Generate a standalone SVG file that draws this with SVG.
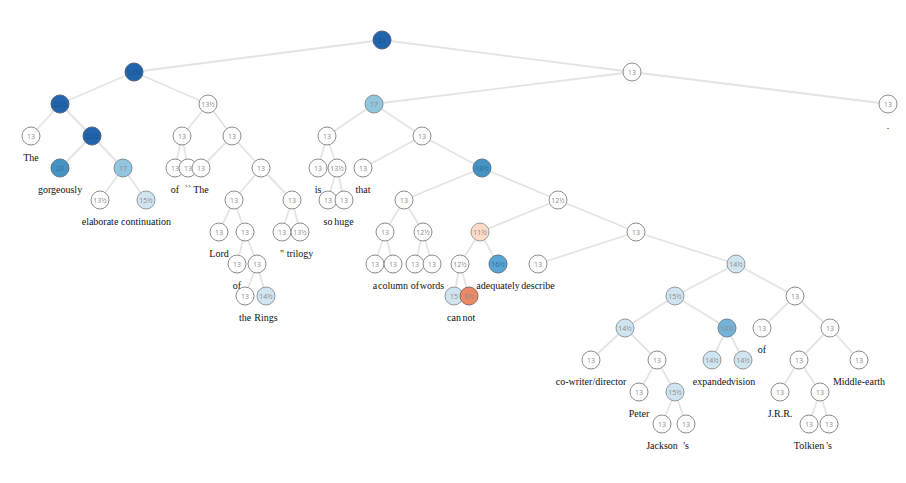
<svg xmlns="http://www.w3.org/2000/svg" width="906" height="483" viewBox="0 0 906 483">
<style>
.bg{fill:#fff}
#edges line{stroke:#e4e4e4;stroke-width:1.8}
.n circle{stroke:#8c8c8c;stroke-width:1;fill:#fff}
.n text.v{font-family:"Open Sans","DejaVu Sans",sans-serif;font-size:7px;fill:#8a8a8a;text-anchor:middle;dominant-baseline:central}
.n text.w{font-family:"Liberation Serif","Times New Roman",serif;font-size:10px;fill:#111;text-anchor:middle}
.n circle.dk{fill:#2166ac;stroke:#4a5f7a}
.n circle.m{fill:#4393c3;stroke:#5a7288}
.n circle.m3{fill:#5aa6d2;stroke:#5a7288}
.n circle.m2{fill:#74b3d8;stroke:#6a8296}
.n circle.l{fill:#92c5de;stroke:#7a8f9c}
.n circle.vl{fill:#d1e5f0;stroke:#8c98a0}
.n circle.ol{fill:#fddbc7;stroke:#a09a96}
.n circle.or{fill:#ec8a68;stroke:#8a6a60}
.n circle.dk+text.v{fill:#1d4f8a}
.n circle.m+text.v,.n circle.m3+text.v{fill:#2f6d9c}
</style>
<rect class="bg" width="906" height="483"/>
<g id="edges">
<line x1="382" y1="40" x2="134" y2="72"/>
<line x1="382" y1="40" x2="632" y2="72"/>
<line x1="134" y1="72" x2="60" y2="104"/>
<line x1="134" y1="72" x2="208" y2="104"/>
<line x1="60" y1="104" x2="31" y2="136"/>
<line x1="60" y1="104" x2="92" y2="136"/>
<line x1="92" y1="136" x2="60" y2="168"/>
<line x1="92" y1="136" x2="123" y2="168"/>
<line x1="123" y1="168" x2="100" y2="200"/>
<line x1="123" y1="168" x2="146" y2="200"/>
<line x1="208" y1="104" x2="182" y2="136"/>
<line x1="208" y1="104" x2="232" y2="136"/>
<line x1="182" y1="136" x2="175" y2="168"/>
<line x1="182" y1="136" x2="188" y2="168"/>
<line x1="232" y1="136" x2="201" y2="168"/>
<line x1="232" y1="136" x2="261" y2="168"/>
<line x1="261" y1="168" x2="234" y2="200"/>
<line x1="261" y1="168" x2="292" y2="200"/>
<line x1="234" y1="200" x2="219" y2="232"/>
<line x1="234" y1="200" x2="245" y2="232"/>
<line x1="245" y1="232" x2="237" y2="264"/>
<line x1="245" y1="232" x2="257" y2="264"/>
<line x1="257" y1="264" x2="245" y2="296"/>
<line x1="257" y1="264" x2="266" y2="296"/>
<line x1="292" y1="200" x2="282" y2="232"/>
<line x1="292" y1="200" x2="300" y2="232"/>
<line x1="632" y1="72" x2="374" y2="104"/>
<line x1="632" y1="72" x2="888" y2="104"/>
<line x1="374" y1="104" x2="327" y2="136"/>
<line x1="374" y1="104" x2="422" y2="136"/>
<line x1="327" y1="136" x2="318" y2="168"/>
<line x1="327" y1="136" x2="337" y2="168"/>
<line x1="337" y1="168" x2="328" y2="200"/>
<line x1="337" y1="168" x2="344" y2="200"/>
<line x1="422" y1="136" x2="363" y2="168"/>
<line x1="422" y1="136" x2="482" y2="168"/>
<line x1="482" y1="168" x2="404" y2="200"/>
<line x1="482" y1="168" x2="558" y2="200"/>
<line x1="404" y1="200" x2="385" y2="232"/>
<line x1="404" y1="200" x2="423" y2="232"/>
<line x1="385" y1="232" x2="375" y2="264"/>
<line x1="385" y1="232" x2="393" y2="264"/>
<line x1="423" y1="232" x2="415" y2="264"/>
<line x1="423" y1="232" x2="432" y2="264"/>
<line x1="558" y1="200" x2="480" y2="232"/>
<line x1="558" y1="200" x2="636" y2="232"/>
<line x1="480" y1="232" x2="460" y2="264"/>
<line x1="480" y1="232" x2="498" y2="264"/>
<line x1="460" y1="264" x2="454" y2="296"/>
<line x1="460" y1="264" x2="469" y2="296"/>
<line x1="636" y1="232" x2="538" y2="264"/>
<line x1="636" y1="232" x2="736" y2="264"/>
<line x1="736" y1="264" x2="675" y2="296"/>
<line x1="736" y1="264" x2="795" y2="296"/>
<line x1="675" y1="296" x2="625" y2="328"/>
<line x1="675" y1="296" x2="727" y2="328"/>
<line x1="625" y1="328" x2="591" y2="360"/>
<line x1="625" y1="328" x2="657" y2="360"/>
<line x1="657" y1="360" x2="639" y2="392"/>
<line x1="657" y1="360" x2="675" y2="392"/>
<line x1="675" y1="392" x2="662" y2="424"/>
<line x1="675" y1="392" x2="686" y2="424"/>
<line x1="727" y1="328" x2="712" y2="360"/>
<line x1="727" y1="328" x2="743" y2="360"/>
<line x1="795" y1="296" x2="762" y2="328"/>
<line x1="795" y1="296" x2="830" y2="328"/>
<line x1="830" y1="328" x2="799" y2="360"/>
<line x1="830" y1="328" x2="859" y2="360"/>
<line x1="799" y1="360" x2="780" y2="392"/>
<line x1="799" y1="360" x2="820" y2="392"/>
<line x1="820" y1="392" x2="809" y2="424"/>
<line x1="820" y1="392" x2="829" y2="424"/>
</g>
<g id="nodes">
<g id="n0" class="n" transform="translate(382,40)"><circle r="9" class="dk"/><text class="v">21</text></g>
<g id="n1" class="n" transform="translate(134,72)"><circle r="9" class="dk"/><text class="v">22½</text></g>
<g id="n3" class="n" transform="translate(60,104)"><circle r="9" class="dk"/><text class="v">22½</text></g>
<g id="n5" class="n" transform="translate(31,136)"><circle r="9"/><text class="v">13</text><text class="w" y="25">The</text></g>
<g id="n6" class="n" transform="translate(92,136)"><circle r="9" class="dk"/><text class="v">22½</text></g>
<g id="n7" class="n" transform="translate(60,168)"><circle r="9" class="m"/><text class="v">20</text><text class="w" y="25">gorgeously</text></g>
<g id="n8" class="n" transform="translate(123,168)"><circle r="9" class="l"/><text class="v">17</text></g>
<g id="n9" class="n" transform="translate(100,200)"><circle r="9"/><text class="v">13½</text><text class="w" y="25">elaborate</text></g>
<g id="n10" class="n" transform="translate(146,200)"><circle r="9" class="vl"/><text class="v">15½</text><text class="w" y="25">continuation</text></g>
<g id="n4" class="n" transform="translate(208,104)"><circle r="9"/><text class="v">13½</text></g>
<g id="n11" class="n" transform="translate(182,136)"><circle r="9"/><text class="v">13</text></g>
<g id="n13" class="n" transform="translate(175,168)"><circle r="9"/><text class="v">13</text><text class="w" y="25">of</text></g>
<g id="n14" class="n" transform="translate(188,168)"><circle r="9"/><text class="v">13</text><text class="w" y="25">``</text></g>
<g id="n12" class="n" transform="translate(232,136)"><circle r="9"/><text class="v">13</text></g>
<g id="n15" class="n" transform="translate(201,168)"><circle r="9"/><text class="v">13</text><text class="w" y="25">The</text></g>
<g id="n16" class="n" transform="translate(261,168)"><circle r="9"/><text class="v">13</text></g>
<g id="n17" class="n" transform="translate(234,200)"><circle r="9"/><text class="v">13</text></g>
<g id="n19" class="n" transform="translate(219,232)"><circle r="9"/><text class="v">13</text><text class="w" y="25">Lord</text></g>
<g id="n20" class="n" transform="translate(245,232)"><circle r="9"/><text class="v">13</text></g>
<g id="n21" class="n" transform="translate(237,264)"><circle r="9"/><text class="v">13</text><text class="w" y="25">of</text></g>
<g id="n22" class="n" transform="translate(257,264)"><circle r="9"/><text class="v">13</text></g>
<g id="n23" class="n" transform="translate(245,296)"><circle r="9"/><text class="v">13</text><text class="w" y="25">the</text></g>
<g id="n24" class="n" transform="translate(266,296)"><circle r="9" class="vl"/><text class="v">14½</text><text class="w" y="25">Rings</text></g>
<g id="n18" class="n" transform="translate(292,200)"><circle r="9"/><text class="v">13</text></g>
<g id="n25" class="n" transform="translate(282,232)"><circle r="9"/><text class="v">13</text><text class="w" y="25">''</text></g>
<g id="n26" class="n" transform="translate(300,232)"><circle r="9"/><text class="v">13½</text><text class="w" y="25">trilogy</text></g>
<g id="n2" class="n" transform="translate(632,72)"><circle r="9"/><text class="v">13</text></g>
<g id="n27" class="n" transform="translate(374,104)"><circle r="9" class="l"/><text class="v">17</text></g>
<g id="n29" class="n" transform="translate(327,136)"><circle r="9"/><text class="v">13</text></g>
<g id="n31" class="n" transform="translate(318,168)"><circle r="9"/><text class="v">13</text><text class="w" y="25">is</text></g>
<g id="n32" class="n" transform="translate(337,168)"><circle r="9"/><text class="v">13½</text></g>
<g id="n33" class="n" transform="translate(328,200)"><circle r="9"/><text class="v">13</text><text class="w" y="25">so</text></g>
<g id="n34" class="n" transform="translate(344,200)"><circle r="9"/><text class="v">13</text><text class="w" y="25">huge</text></g>
<g id="n30" class="n" transform="translate(422,136)"><circle r="9"/><text class="v">13</text></g>
<g id="n35" class="n" transform="translate(363,168)"><circle r="9"/><text class="v">13</text><text class="w" y="25">that</text></g>
<g id="n36" class="n" transform="translate(482,168)"><circle r="9" class="m"/><text class="v">18½</text></g>
<g id="n37" class="n" transform="translate(404,200)"><circle r="9"/><text class="v">13</text></g>
<g id="n39" class="n" transform="translate(385,232)"><circle r="9"/><text class="v">13</text></g>
<g id="n41" class="n" transform="translate(375,264)"><circle r="9"/><text class="v">13</text><text class="w" y="25">a</text></g>
<g id="n42" class="n" transform="translate(393,264)"><circle r="9"/><text class="v">13</text><text class="w" y="25">column</text></g>
<g id="n40" class="n" transform="translate(423,232)"><circle r="9"/><text class="v">12½</text></g>
<g id="n43" class="n" transform="translate(415,264)"><circle r="9"/><text class="v">13</text><text class="w" y="25">of</text></g>
<g id="n44" class="n" transform="translate(432,264)"><circle r="9"/><text class="v">13</text><text class="w" y="25">words</text></g>
<g id="n38" class="n" transform="translate(558,200)"><circle r="9"/><text class="v">12½</text></g>
<g id="n45" class="n" transform="translate(480,232)"><circle r="9" class="ol"/><text class="v">11½</text></g>
<g id="n47" class="n" transform="translate(460,264)"><circle r="9"/><text class="v">12½</text></g>
<g id="n49" class="n" transform="translate(454,296)"><circle r="9" class="vl"/><text class="v">15</text><text class="w" y="25">can</text></g>
<g id="n50" class="n" transform="translate(469,296)"><circle r="9" class="or"/><text class="v">8½</text><text class="w" y="25">not</text></g>
<g id="n48" class="n" transform="translate(498,264)"><circle r="9" class="m3"/><text class="v">16½</text><text class="w" y="25">adequately</text></g>
<g id="n46" class="n" transform="translate(636,232)"><circle r="9"/><text class="v">13</text></g>
<g id="n51" class="n" transform="translate(538,264)"><circle r="9"/><text class="v">13</text><text class="w" y="25">describe</text></g>
<g id="n52" class="n" transform="translate(736,264)"><circle r="9" class="vl"/><text class="v">14½</text></g>
<g id="n53" class="n" transform="translate(675,296)"><circle r="9" class="vl"/><text class="v">15½</text></g>
<g id="n55" class="n" transform="translate(625,328)"><circle r="9" class="vl"/><text class="v">14½</text></g>
<g id="n57" class="n" transform="translate(591,360)"><circle r="9"/><text class="v">13</text><text class="w" y="25">co-writer/director</text></g>
<g id="n58" class="n" transform="translate(657,360)"><circle r="9"/><text class="v">13</text></g>
<g id="n59" class="n" transform="translate(639,392)"><circle r="9"/><text class="v">13</text><text class="w" y="25">Peter</text></g>
<g id="n60" class="n" transform="translate(675,392)"><circle r="9" class="vl"/><text class="v">15½</text></g>
<g id="n61" class="n" transform="translate(662,424)"><circle r="9"/><text class="v">13</text><text class="w" y="25">Jackson</text></g>
<g id="n62" class="n" transform="translate(686,424)"><circle r="9"/><text class="v">13</text><text class="w" y="25">'s</text></g>
<g id="n56" class="n" transform="translate(727,328)"><circle r="9" class="m2"/><text class="v">18½</text></g>
<g id="n63" class="n" transform="translate(712,360)"><circle r="9" class="vl"/><text class="v">14½</text><text class="w" y="25">expanded</text></g>
<g id="n64" class="n" transform="translate(743,360)"><circle r="9" class="vl"/><text class="v">14½</text><text class="w" y="25">vision</text></g>
<g id="n54" class="n" transform="translate(795,296)"><circle r="9"/><text class="v">13</text></g>
<g id="n65" class="n" transform="translate(762,328)"><circle r="9"/><text class="v">13</text><text class="w" y="25">of</text></g>
<g id="n66" class="n" transform="translate(830,328)"><circle r="9"/><text class="v">13</text></g>
<g id="n67" class="n" transform="translate(799,360)"><circle r="9"/><text class="v">13</text></g>
<g id="n69" class="n" transform="translate(780,392)"><circle r="9"/><text class="v">13</text><text class="w" y="25">J.R.R.</text></g>
<g id="n70" class="n" transform="translate(820,392)"><circle r="9"/><text class="v">13</text></g>
<g id="n71" class="n" transform="translate(809,424)"><circle r="9"/><text class="v">13</text><text class="w" y="25">Tolkien</text></g>
<g id="n72" class="n" transform="translate(829,424)"><circle r="9"/><text class="v">13</text><text class="w" y="25">'s</text></g>
<g id="n68" class="n" transform="translate(859,360)"><circle r="9"/><text class="v">13</text><text class="w" y="25">Middle-earth</text></g>
<g id="n28" class="n" transform="translate(888,104)"><circle r="9"/><text class="v">13</text><text class="w" y="25">.</text></g>
</g>
</svg>
